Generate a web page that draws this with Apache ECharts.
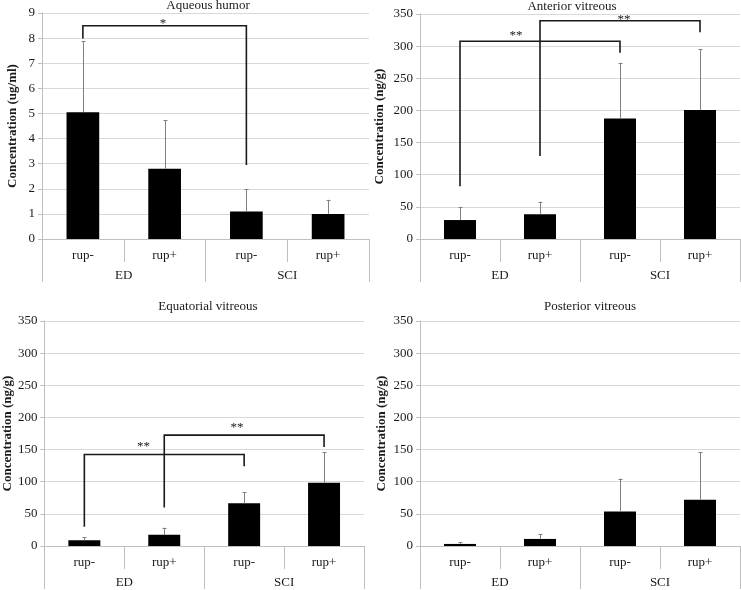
<!DOCTYPE html>
<html><head><meta charset="utf-8">
<script src="https://cdn.jsdelivr.net/npm/echarts@6/dist/echarts.min.js"></script>
<style>html,body{margin:0;padding:0;background:#fff}#c{width:741px;height:590px}</style>
</head><body><div id="c"></div>
<script>
// ---------- data ----------
const categories = ['rup-', 'rup+', 'rup-', 'rup+'];
const groups = ['ED', 'SCI'];
const titles = ['Aqueous humor', 'Anterior vitreous', 'Equatorial vitreous', 'Posterior vitreous'];
const yNames = ['Concentration (ug/ml)', 'Concentration (ng/g)', 'Concentration (ng/g)', 'Concentration (ng/g)'];

const aqueousMean = [5.05, 2.80, 1.10, 1.00];
const aqueousUpper = [7.88, 4.74, 1.99, 1.56];
const anteriorMean = [29.5, 38.5, 187.5, 200.5];
const anteriorUpper = [49.5, 58, 274, 295];
const equatorialMean = [9, 17.5, 66.5, 98.5];
const equatorialUpper = [13.5, 28.5, 83.5, 145.5];
const posteriorMean = [3.2, 11, 53.5, 72];
const posteriorUpper = [5.7, 18.5, 105, 145.5];

// brackets: [fromIndex, toIndex, topValue, leftLegBottom, rightLegBottom]
const aqueousBrackets = [[0, 2, 8.49, 7.98, 2.95]];
const anteriorBrackets = [[0, 2, 307.5, 82, 289.8], [1, 3, 339.6, 129, 321.5]];
const equatorialBrackets = [[0, 2, 142.4, 30, 124], [1, 3, 172.4, 60, 154]];
const posteriorBrackets = [];
// significance marks: [categoryPosition, value, text]
const aqueousStars = [[0.98, 8.68, '*']];
const anteriorStars = [[0.70, 320.4, '**'], [2.05, 345.3, '**']];
const equatorialStars = [[0.74, 159.5, '**'], [1.91, 189.0, '**']];
const posteriorStars = [];

const yMax = [9, 350, 350, 350];
const yInterval = [1, 50, 50, 50];

// ---------- layout ----------
const FONT = "'Liberation Serif','Times New Roman',serif";
const grids = [
  {left: 42, right: 372, top: 13, bottom: 351},
  {left: 420, right: 1, top: 14, bottom: 351},
  {left: 43, right: 377, top: 321, bottom: 44},
  {left: 420, right: 1, top: 321, bottom: 44}
];
const titlePos = [[208, -1], [572, 0.5], [208, 300], [590, 300]];
const nameGaps = [23, 34, 28, 32];

const means = [aqueousMean, anteriorMean, equatorialMean, posteriorMean];
const uppers = [aqueousUpper, anteriorUpper, equatorialUpper, posteriorUpper];
const brackets = [aqueousBrackets, anteriorBrackets, equatorialBrackets, posteriorBrackets];
const stars = [aqueousStars, anteriorStars, equatorialStars, posteriorStars];

const gridLineColor = '#d9d9d9';
const axisColor = '#bfbfbf';
const textColor = '#1a1a1a';

const option = {
  animation: false,
  backgroundColor: '#fff',
  title: titles.map((t, i) => ({
    text: t, left: titlePos[i][0], top: titlePos[i][1], textAlign: 'center', padding: 0,
    textStyle: {fontFamily: FONT, fontSize: 13, fontWeight: 'normal', color: textColor}
  })),
  grid: grids.map(g => Object.assign({containLabel: false}, g)),
  xAxis: [],
  yAxis: [],
  series: []
};

for (let i = 0; i < 4; i++) {
  option.xAxis.push({
    type: 'category', gridIndex: i, data: categories, position: 'bottom',
    axisLine: {show: true, lineStyle: {color: axisColor, width: 1}},
    axisTick: {show: true, interval: 0, length: 23, lineStyle: {color: axisColor}},
    axisLabel: {interval: 0, margin: 10, fontFamily: FONT, fontSize: 13, color: textColor},
    splitLine: {show: false}
  });
  option.xAxis.push({
    type: 'category', gridIndex: i, data: groups, position: 'bottom',
    axisLine: {show: false},
    axisTick: {show: true, interval: 0, length: 43, lineStyle: {color: axisColor}},
    axisLabel: {interval: 0, margin: 30, fontFamily: FONT, fontSize: 13, color: textColor},
    splitLine: {show: false}
  });
  option.yAxis.push({
    type: 'value', gridIndex: i, min: 0, max: yMax[i], interval: yInterval[i],
    name: yNames[i], nameLocation: 'middle', nameGap: nameGaps[i],
    nameTextStyle: {fontFamily: FONT, fontSize: 13, fontWeight: 'bold', color: textColor},
    axisLine: {show: true, lineStyle: {color: axisColor}},
    axisTick: {show: true, length: 4, lineStyle: {color: axisColor}},
    axisLabel: {margin: 7, fontFamily: FONT, fontSize: 13, color: textColor},
    splitLine: {show: true, lineStyle: {color: gridLineColor, width: 1}}
  });

  option.series.push({
    type: 'bar', xAxisIndex: i * 2, yAxisIndex: i,
    data: means[i], barWidth: '40%',
    itemStyle: {color: '#000'}, z: 2
  });

  // error bars (upper only)
  option.series.push({
    type: 'custom', xAxisIndex: i * 2, yAxisIndex: i, z: 3,
    data: means[i].map((m, k) => [k, m, uppers[i][k]]),
    renderItem: function (params, api) {
      const base = api.coord([api.value(0), api.value(1)]);
      const top = api.coord([api.value(0), api.value(2)]);
      const st = {stroke: '#808080', lineWidth: 1};
      return {type: 'group', children: [
        {type: 'line', shape: {x1: Math.round(base[0]) + 0.5, y1: base[1], x2: Math.round(base[0]) + 0.5, y2: top[1]}, style: st},
        {type: 'line', shape: {x1: Math.round(top[0]) - 1.5, y1: Math.round(top[1]) + 0.5, x2: Math.round(top[0]) + 2.5, y2: Math.round(top[1]) + 0.5}, style: st}
      ]};
    }
  });

  // significance brackets
  const br = brackets[i];
  if (br.length) {
    option.series.push({
      type: 'custom', xAxisIndex: i * 2, yAxisIndex: i, z: 4,
      data: br.map(b => [b[0], b[2]]),
      renderItem: function (params, api) {
        const b = br[params.dataIndex];
        const pTopL = api.coord([b[0], b[2]]);
        const pTopR = api.coord([b[1], b[2]]);
        const pBotL = api.coord([b[0], b[3]]);
        const pBotR = api.coord([b[1], b[4]]);
        return {type: 'polyline', shape: {points: [
          [pBotL[0], pBotL[1]], [pTopL[0], pTopL[1]], [pTopR[0], pTopR[1]], [pBotR[0], pBotR[1]]
        ]}, style: {stroke: '#1a1a1a', lineWidth: 1.6, fill: null}};
      }
    });
  }
  const sr = stars[i];
  if (sr.length) {
    option.series.push({
      type: 'custom', xAxisIndex: i * 2, yAxisIndex: i, z: 5,
      data: sr.map(s => [0, s[1]]),
      renderItem: function (params, api) {
        const s = sr[params.dataIndex];
        const p0 = api.coord([0, s[1]]);
        const p1 = api.coord([1, s[1]]);
        const x = p0[0] + s[0] * (p1[0] - p0[0]);
        return {type: 'text', style: {
          x: x, y: p0[1] + 3, text: s[2], textAlign: 'center', textVerticalAlign: 'middle',
          fontFamily: FONT, fontSize: 13, fill: textColor
        }};
      }
    });
  }
}

const chart = echarts.init(document.getElementById('c'), null, {renderer: 'canvas'});
chart.setOption(option);
</script>
</body></html>
